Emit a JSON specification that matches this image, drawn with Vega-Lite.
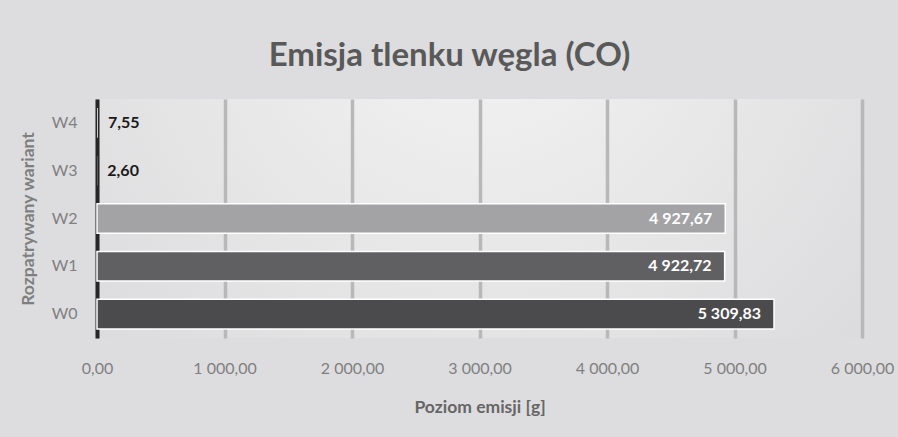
{
  "$schema": "https://vega.github.io/schema/vega-lite/v6.json",
  "width": 765,
  "height": 239,
  "autosize": {"type": "none"},
  "padding": {"left": 97, "top": 99, "right": 36, "bottom": 99},
  "background": "#dddddf",
  "title": {
    "text": "Emisja tlenku węgla (CO)",
    "fontSize": 33,
    "fontWeight": "bold",
    "color": "#595959",
    "font": "Lato",
    "anchor": "middle",
    "baseline": "alphabetic",
    "offset": 0,
    "dx": -30
  },
  "data": {
    "values": [
      {"wariant": "W0", "emisja": 5309.83},
      {"wariant": "W1", "emisja": 4922.72},
      {"wariant": "W2", "emisja": 4927.67},
      {"wariant": "W3", "emisja": 2.60},
      {"wariant": "W4", "emisja": 7.55}
    ]
  },
  "encoding": {
    "y": {
      "field": "wariant",
      "type": "nominal",
      "sort": ["W4", "W3", "W2", "W1", "W0"],
      "scale": {"paddingInner": 0.38, "paddingOuter": 0.19},
      "title": "Rozpatrywany wariant",
      "axis": {
        "domain": true,
        "domainColor": "#262626",
        "domainWidth": 4,
        "ticks": false,
        "labelPadding": 20,
        "labelFontSize": 16,
        "labelColor": "#808080",
        "titleFontSize": 17.5,
        "titleFontWeight": "bold",
        "titleColor": "#7f7f7f",
        "titlePadding": 14
      }
    },
    "x": {
      "field": "emisja",
      "type": "quantitative",
      "scale": {"domain": [0, 6000], "nice": false},
      "title": "Poziom emisji [g]",
      "axis": {
        "values": [0, 1000, 2000, 3000, 4000, 5000, 6000],
        "format": ",.2f",
        "domain": false,
        "ticks": false,
        "grid": true,
        "gridColor": "#b8b8ba",
        "gridWidth": 3.5,
        "labelPadding": 22,
        "labelFontSize": 16,
        "labelColor": "#808080",
        "labelFlush": false,
        "titleFontSize": 17.5,
        "titleFontWeight": "bold",
        "titleColor": "#666666",
        "titlePadding": 22
      }
    }
  },
  "layer": [
    {
      "mark": {"type": "bar", "strokeWidth": 1.5},
      "encoding": {
        "color": {
          "field": "wariant",
          "type": "nominal",
          "scale": {
            "domain": ["W0", "W1", "W2", "W3", "W4"],
            "range": ["#4b4b4d", "#606062", "#a3a3a5", "#bfbfbf", "#d0d0d0"]
          },
          "legend": null
        },
        "stroke": {
          "condition": {"test": "datum.emisja < 100", "value": null},
          "value": "white"
        }
      }
    },
    {
      "transform": [{"filter": "datum.emisja >= 100"}],
      "mark": {"type": "text", "align": "right", "dx": -13, "color": "white", "fontWeight": "bold", "fontSize": 16, "font": "Lato"},
      "encoding": {"text": {"field": "emisja", "type": "quantitative", "format": ",.2f"}}
    },
    {
      "transform": [{"filter": "datum.emisja < 100"}],
      "mark": {"type": "text", "align": "left", "dx": 10, "color": "#1a1a1a", "fontWeight": "bold", "fontSize": 16, "font": "Lato"},
      "encoding": {"text": {"field": "emisja", "type": "quantitative", "format": ",.2f"}}
    }
  ],
  "config": {
    "font": "Lato",
    "locale": {
      "number": {"decimal": ",", "thousands": " ", "grouping": [3], "currency": ["", " zł"]}
    },
    "view": {
      "stroke": null,
      "fill": {
        "gradient": "radial",
        "x1": 0.5, "y1": 0.2, "r1": 0,
        "x2": 0.5, "y2": 0.2, "r2": 0.75,
        "stops": [
          {"offset": 0, "color": "#f4f4f4"},
          {"offset": 1, "color": "#d9d9db"}
        ]
      }
    }
  }
}
